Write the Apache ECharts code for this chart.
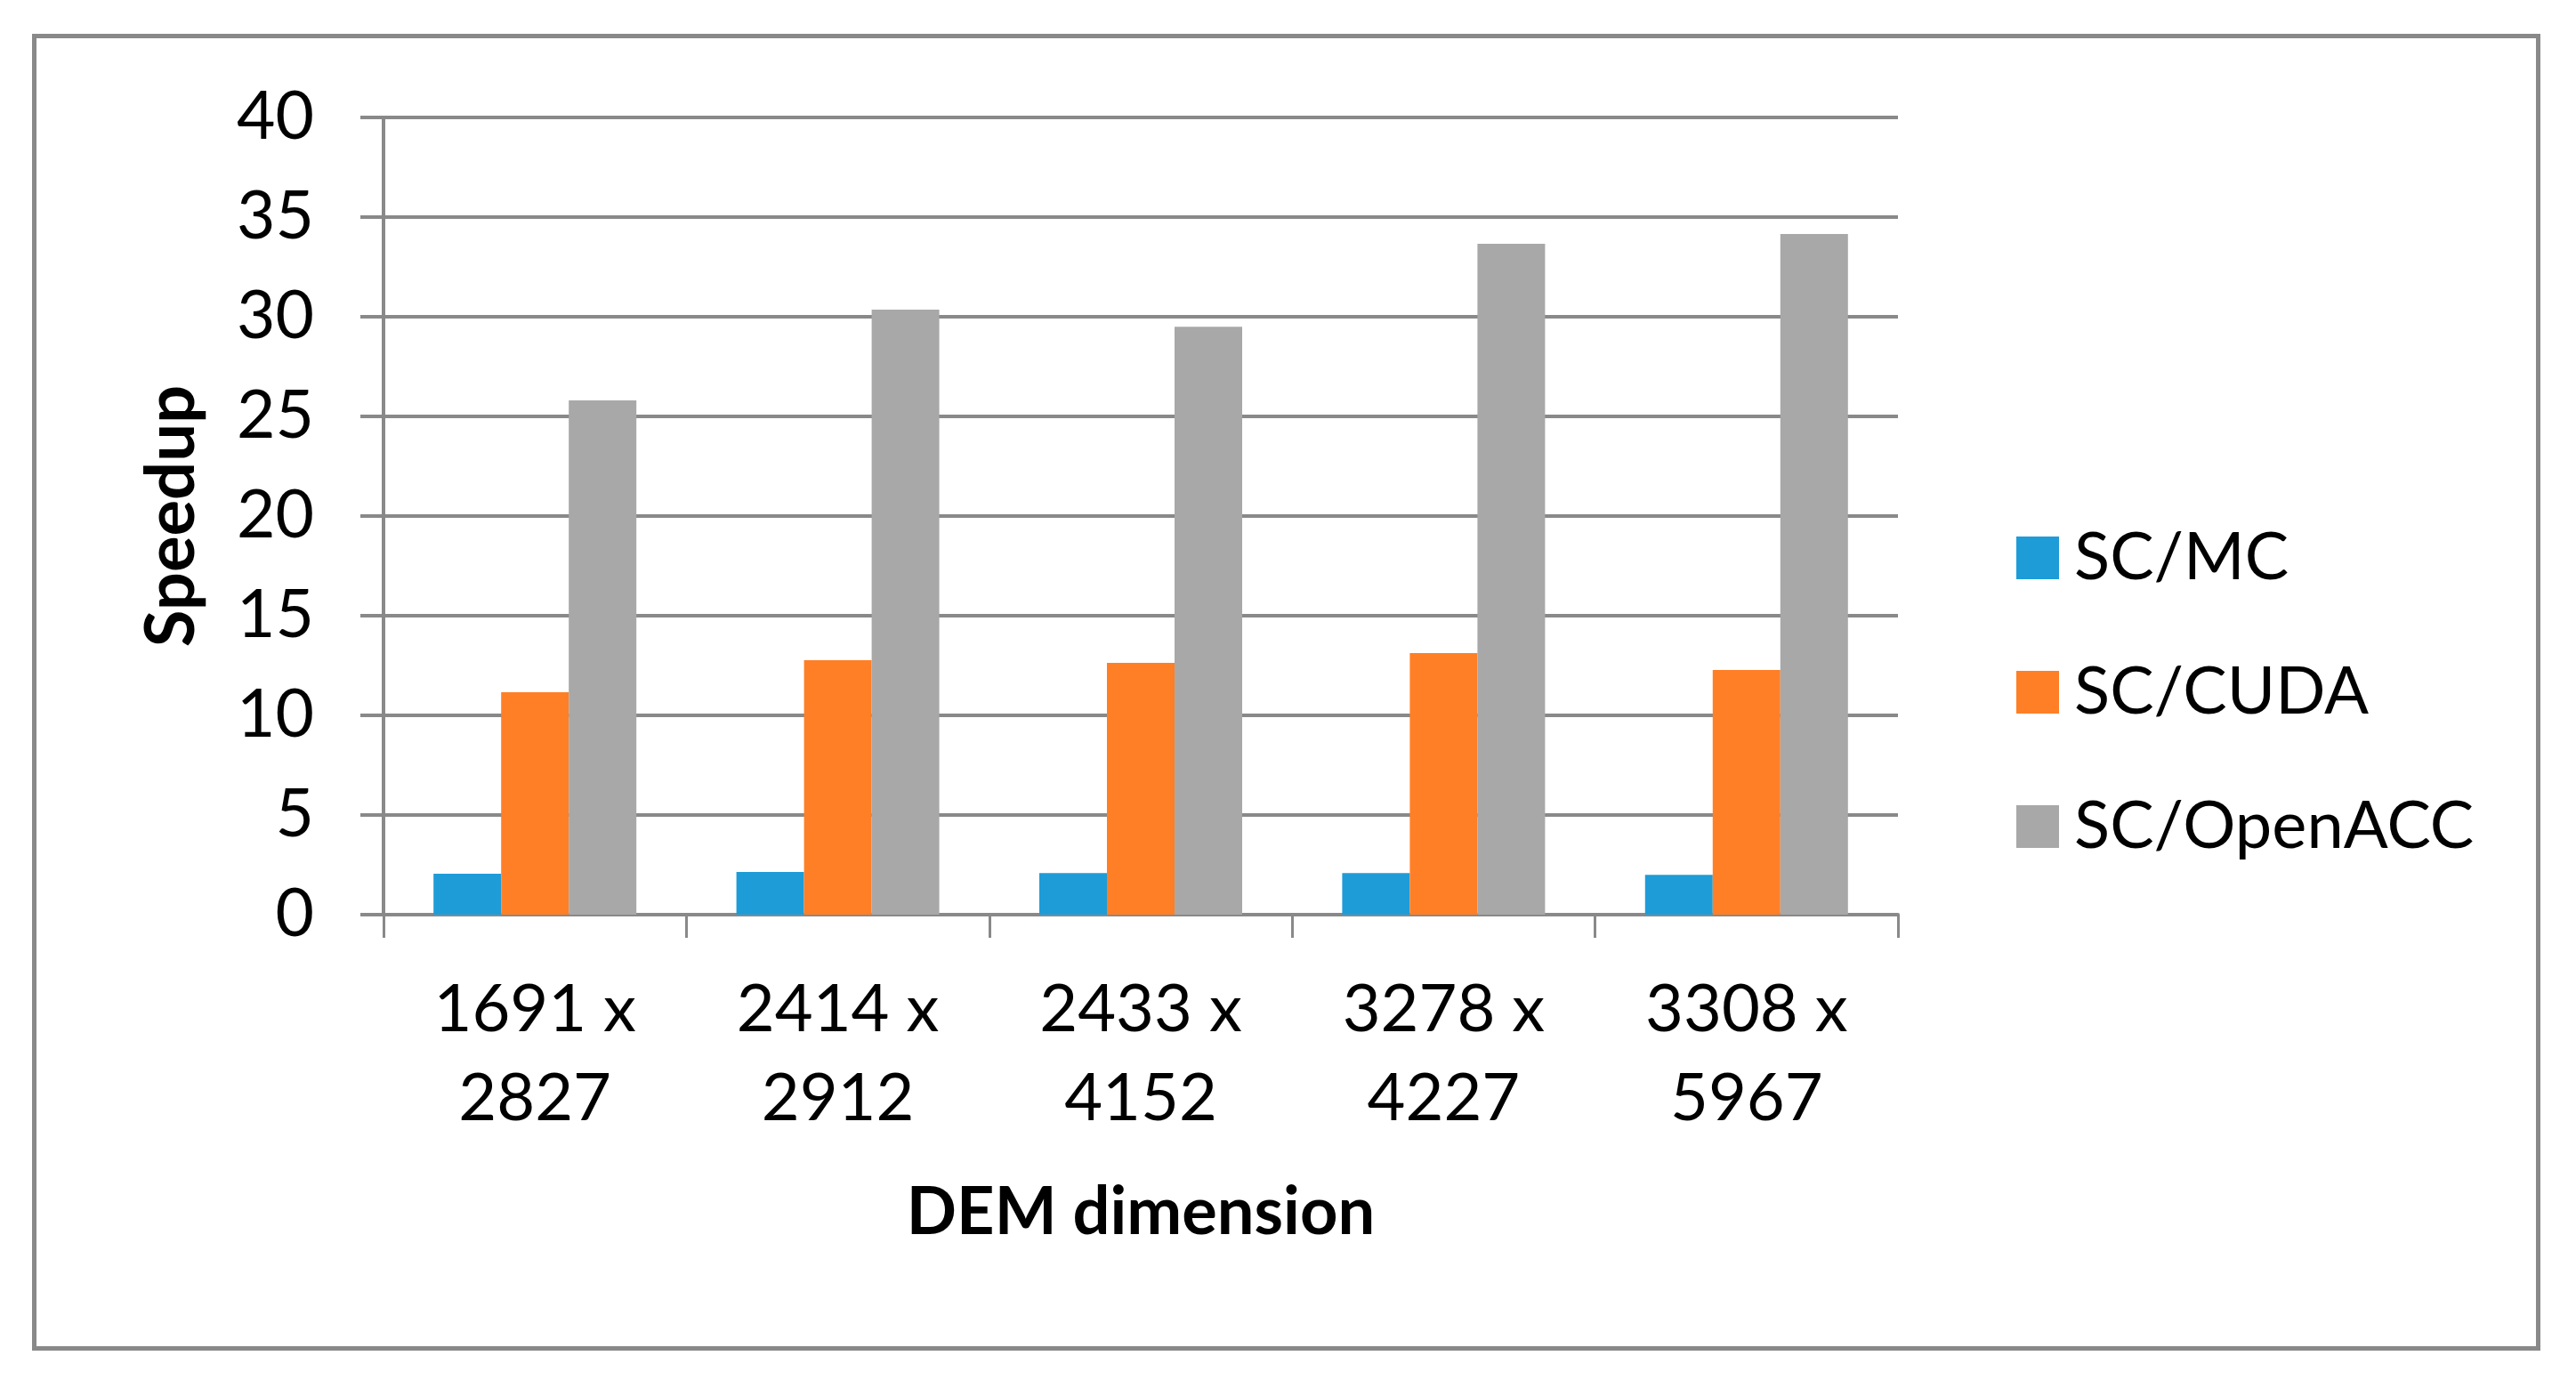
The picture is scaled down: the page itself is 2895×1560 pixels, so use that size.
<!DOCTYPE html>
<html>
<head>
<meta charset="utf-8">
<title>Speedup by DEM dimension</title>
<script src="https://cdn.jsdelivr.net/npm/echarts@6/dist/echarts.min.js"></script>
<style>
    html, body { margin: 0; padding: 0; background: #fff; }
    #chart { width: 2895px; height: 1560px; }
</style>
</head>
<body>
<div id="chart"></div>
<script>
const categories = ['1691 x\n2827', '2414 x\n2912', '2433 x\n4152', '3278 x\n4227', '3308 x\n5967'];
const seriesNames = ['SC/MC', 'SC/CUDA', 'SC/OpenACC'];
const scMc = [2.05, 2.14, 2.09, 2.09, 2.0];
const scCuda = [11.16, 12.77, 12.63, 13.13, 12.28];
const scOpenAcc = [25.8, 30.36, 29.5, 33.66, 34.15];
const seriesColors = ['#1e9cd8', '#ff7f27', '#a8a8a8'];

const axisGray = '#898989';
const font = 'Lato, "Open Sans", sans-serif';

const chart = echarts.init(document.getElementById('chart'));

function bar(name, data, color) {
    return {
        name: name,
        type: 'bar',
        data: data,
        barWidth: 76,
        barGap: '0%',
        itemStyle: { color: color },
        emphasis: { disabled: true }
    };
}

chart.setOption({
    animation: false,
    backgroundColor: '#fff',
    textStyle: { fontFamily: font, color: '#000' },
    grid: { left: 431, top: 132, right: 762, bottom: 532, containLabel: false },
    legend: {
        orient: 'vertical',
        left: 2266,
        top: 590,
        padding: 0,
        itemWidth: 48,
        itemHeight: 48,
        itemGap: 77,
        icon: 'rect',
        selectedMode: false,
        data: seriesNames,
        textStyle: { fontFamily: font, fontSize: 74, lineHeight: 74, color: '#000', padding: [0, 0, 0, 12] }
    },
    xAxis: {
        type: 'category',
        data: categories,
        name: 'DEM dimension',
        nameLocation: 'middle',
        nameGap: 298,
        nameTextStyle: { fontFamily: font, fontSize: 74, fontWeight: 'bold', lineHeight: 74, color: '#000' },
        axisLine: { lineStyle: { color: axisGray, width: 4 } },
        axisTick: { show: true, length: 26, lineStyle: { color: axisGray, width: 3 } },
        axisLabel: { fontFamily: font, fontSize: 74, lineHeight: 100, color: '#000', margin: 57, interval: 0 }
    },
    yAxis: {
        type: 'value',
        min: 0,
        max: 40,
        interval: 5,
        name: 'Speedup',
        nameLocation: 'middle',
        nameGap: 200,
        nameRotate: 90,
        nameTextStyle: { fontFamily: font, fontSize: 76, fontWeight: 'bold', lineHeight: 76, color: '#000' },
        axisLine: { show: true, lineStyle: { color: axisGray, width: 4 } },
        axisTick: { show: true, length: 26, lineStyle: { color: axisGray, width: 4 } },
        axisLabel: { fontFamily: font, fontSize: 75, color: '#000', margin: 78 },
        splitLine: { lineStyle: { color: axisGray, width: 4 } }
    },
    graphic: [{
        type: 'rect',
        shape: { x: 38.5, y: 40.5, width: 2814, height: 1475 },
        style: { fill: null, stroke: axisGray, lineWidth: 5 },
        silent: true
    }],
    series: [
        bar(seriesNames[0], scMc, seriesColors[0]),
        bar(seriesNames[1], scCuda, seriesColors[1]),
        bar(seriesNames[2], scOpenAcc, seriesColors[2])
    ]
});
</script>
</body>
</html>
